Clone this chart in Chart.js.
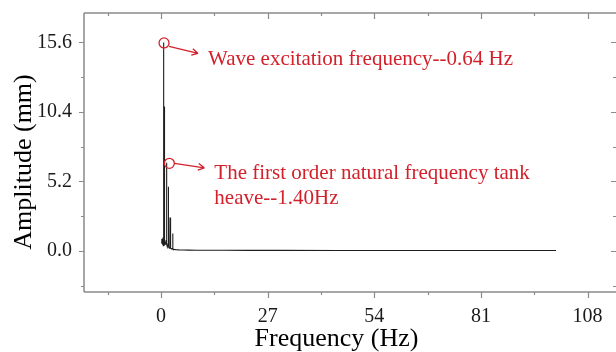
<!DOCTYPE html>
<html>
<head>
<meta charset="utf-8">
<script src="https://cdn.jsdelivr.net/npm/chart.js@4/dist/chart.umd.min.js"></script>
<style>
  html, body { margin: 0; padding: 0; background: #fff; }
  #wrap { width: 616px; height: 352px; }
</style>
</head>
<body>
<div id="wrap"><canvas id="grafico" width="616" height="352"></canvas></div>
<script>
// spectrum (Hz, mm)
const freqHz = [0, 0.2, 0.4, 0.5, 0.58, 0.64, 0.70, 0.76, 0.82, 0.95, 1.1, 1.25, 1.34, 1.40, 1.46, 1.6, 1.78, 1.85, 1.92, 2.1, 2.22, 2.28, 2.34, 2.5, 2.7, 2.9, 2.96, 3.02, 3.3, 3.8, 4.5, 5.5, 7, 9, 12, 16, 22, 30, 45, 60, 80, 100];
const ampMm = [0.6, 0.9, 0.5, 1.0, 0.4, 15.6, 0.5, 10.8, 0.4, 0.7, 0.5, 0.8, 0.6, 6.6, 0.5, 0.3, 0.5, 4.8, 0.3, 0.2, 0.4, 2.5, 0.25, 0.2, 0.15, 0.2, 1.3, 0.15, 0.12, 0.1, 0.08, 0.07, 0.06, 0.05, 0.05, 0.05, 0.04, 0.04, 0.03, 0.03, 0.03, 0.03];

const xTicks = [-13.5, 0, 13.5, 27, 40.5, 54, 67.5, 81, 94.5, 108];
const xLabels = ['', '0', '', '27', '', '54', '', '81', '', '108'];
const yTicks = [-2.6, 0, 2.6, 5.2, 7.8, 10.4, 13, 15.6];
const yLabels = ['', '0.0', '', '5.2', '', '10.4', '', '15.6'];
const xTitulo = 'Frequency (Hz)';
const yTitulo = 'Amplitude (mm)';

const notas = [
    { idx: 5, lines: ['Wave excitation frequency--0.64 Hz'] },
    { idx: 13, lines: ['The first order natural frequency tank', 'heave--1.40Hz'] }
];

const puntos = freqHz.map((f, i) => ({ x: f, y: ampMm[i] }));
const serif = '"Liberation Serif", "Times New Roman", serif';
const gris = '#8a8a8a';
const rojo = '#d3212b';

const marco = {
    id: 'marco',
    afterDraw(chart) {
        const ctx = chart.ctx;
        const a = chart.chartArea;
        const sx = chart.scales.x, sy = chart.scales.y;
        ctx.save();
        ctx.strokeStyle = gris;
        ctx.lineWidth = 1.5;
        ctx.beginPath();
        ctx.moveTo(a.left, a.top); ctx.lineTo(a.right + 2, a.top);
        ctx.moveTo(a.left, a.top); ctx.lineTo(a.left, a.bottom);
        ctx.moveTo(a.left, a.bottom); ctx.lineTo(a.right + 2, a.bottom);
        ctx.stroke();
        ctx.lineWidth = 1.2;
        ctx.beginPath();
        xTicks.forEach((v, i) => {
            const px = Math.round(sx.getPixelForValue(v)) + 0.5;
            const len = xLabels[i] ? 6 : 3;
            ctx.moveTo(px, a.bottom); ctx.lineTo(px, a.bottom + len);
            ctx.moveTo(px, a.top); ctx.lineTo(px, a.top + len);
        });
        yTicks.forEach((v, i) => {
            const py = Math.round(sy.getPixelForValue(v)) + 0.5;
            const len = yLabels[i] ? 5 : 3;
            ctx.moveTo(a.left, py); ctx.lineTo(a.left - len, py);
            ctx.moveTo(a.right, py); ctx.lineTo(a.right - len, py);
        });
        ctx.stroke();

        // axis titles (slightly off-centre in the original)
        ctx.fillStyle = '#000';
        ctx.font = '26px ' + serif;
        ctx.textAlign = 'center';
        ctx.textBaseline = 'middle';
        ctx.fillText(xTitulo, (a.left + a.right) / 2 - 13.5, 339);
        ctx.save();
        ctx.translate(24, (a.top + a.bottom) / 2 + 9.5);
        ctx.rotate(-Math.PI / 2);
        ctx.fillText(yTitulo, 0, 0);
        ctx.restore();

        // annotations
        const meta = chart.getDatasetMeta(0);
        ctx.strokeStyle = rojo;
        ctx.fillStyle = rojo;
        ctx.lineWidth = 1.3;
        ctx.font = '21px ' + serif;
        ctx.textAlign = 'left';
        ctx.textBaseline = 'alphabetic';
        const offs = [{ cx: 0.5, cy: 0.5, ax: 5, ay: 3.5, tx: 35, ty: 10.5 }, { cx: 2.8, cy: 0.6, ax: 5, ay: 0, tx: 36, ty: 4.5 }];
        notas.forEach((n, k) => {
            const p = meta.data[n.idx];
            const o = offs[k];
            const cx = p.x + o.cx, cy = p.y + o.cy;
            ctx.beginPath();
            ctx.arc(cx, cy, 5, 0, Math.PI * 2);
            ctx.stroke();
            const x0 = cx + o.ax, y0 = cy + o.ay;
            const x1 = cx + o.tx - 1, y1 = cy + o.ty;
            ctx.beginPath();
            ctx.moveTo(x0, y0); ctx.lineTo(x1, y1);
            const ang = Math.atan2(y1 - y0, x1 - x0);
            ctx.moveTo(x1, y1); ctx.lineTo(x1 - 7 * Math.cos(ang - 0.5), y1 - 7 * Math.sin(ang - 0.5));
            ctx.moveTo(x1, y1); ctx.lineTo(x1 - 7 * Math.cos(ang + 0.5), y1 - 7 * Math.sin(ang + 0.5));
            ctx.stroke();
            n.lines.forEach((t, j) => {
                ctx.fillText(t, x1 + 10, y1 + 11.5 + j * 25);
            });
        });
        ctx.restore();
    }
};

new Chart(document.getElementById('grafico').getContext('2d'), {
    type: 'scatter',
    data: {
        datasets: [{
            data: puntos,
            showLine: true,
            borderColor: '#1e1e1e',
            borderWidth: 1.1,
            pointRadius: 0,
            tension: 0
        }]
    },
    options: {
        responsive: false,
        animation: false,
        events: [],
        layout: { padding: 0 },
        plugins: { legend: { display: false }, tooltip: { enabled: false } },
        scales: {
            x: {
                type: 'linear',
                min: -19.5,
                max: 115.2,
                afterFit: s => { s.height = 60; s.paddingLeft = 0; s.paddingRight = 0; },
                afterBuildTicks: s => { s.ticks = xTicks.map(v => ({ value: v })); },
                grid: { display: false, drawTicks: false },
                border: { display: false },
                ticks: {
                    autoSkip: false,
                    maxRotation: 0,
                    padding: 13,
                    color: '#1a1a1a',
                    font: { family: serif, size: 20 },
                    callback: (v, i) => xLabels[i]
                }
            },
            y: {
                min: -3.07,
                max: 17.8,
                afterFit: s => { s.width = 84; s.paddingTop = 13; s.paddingBottom = 0; },
                afterBuildTicks: s => { s.ticks = yTicks.map(v => ({ value: v })); },
                grid: { display: false, drawTicks: false },
                border: { display: false },
                ticks: {
                    autoSkip: false,
                    padding: 12,
                    color: '#1a1a1a',
                    font: { family: serif, size: 20 },
                    callback: (v, i) => yLabels[i]
                }
            }
        }
    },
    plugins: [marco]
});
</script>
</body>
</html>
